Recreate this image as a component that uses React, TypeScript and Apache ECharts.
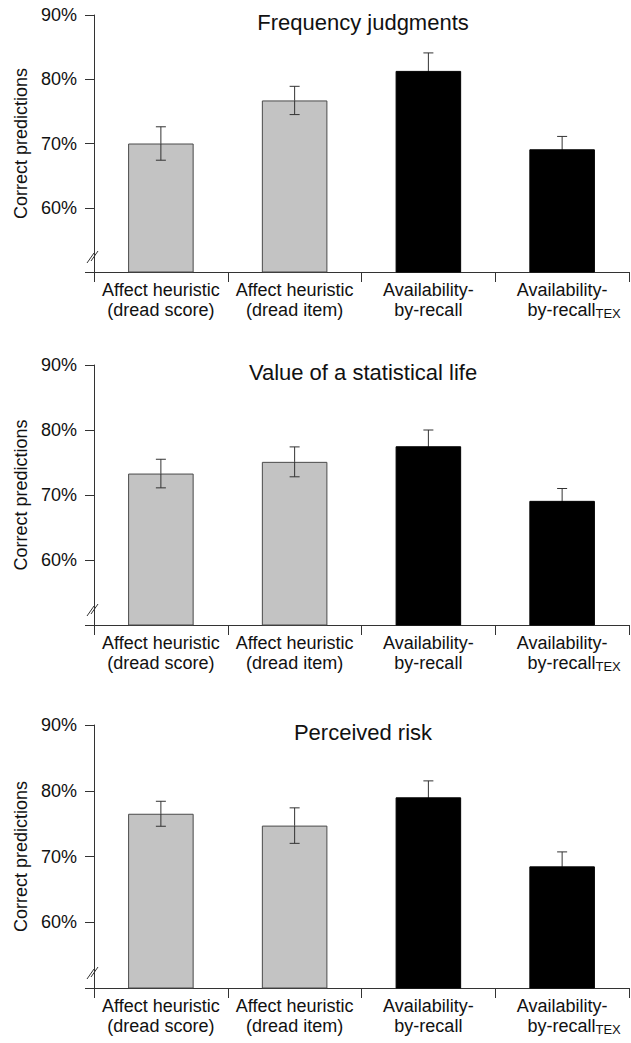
import React, { useEffect, useRef } from "react";
import * as echarts from "echarts";

const categories = [
  "Affect heuristic\n(dread score)",
  "Affect heuristic\n(dread item)",
  "Availability-\nby-recall",
  "Availability-\nby-recall TEX",
];
const panelTitles = ["Frequency judgments", "Value of a statistical life", "Perceived risk"];
const freqValues = [70.0, 76.7, 81.3, 69.1];
const freqErrors = [2.6, 2.2, 2.8, 2.0];
const vslValues = [73.3, 75.1, 77.5, 69.1];
const vslErrors = [2.2, 2.3, 2.5, 1.9];
const riskValues = [76.5, 74.7, 79.0, 68.5];
const riskErrors = [1.9, 2.7, 2.5, 2.2];
const yTicks = [50, 60, 70, 80, 90];
const yAxisName = "Correct predictions";

const panelValues = [freqValues, vslValues, riskValues];
const panelErrors = [freqErrors, vslErrors, riskErrors];

const barColors = ["#c3c3c3", "#c3c3c3", "#000000", "#000000"];
const barBorders = ["#4a4a4a", "#4a4a4a", "#000000", "#000000"];
const gridTops = [15, 365, 725];
const gridHeights = [257, 260, 263];
const FONT = "Liberation Sans, Arial, Helvetica, sans-serif";

export default function App() {
  const ref = useRef<HTMLDivElement>(null);
  useEffect(() => {
    if (!ref.current) return;
    const chart = echarts.init(ref.current, null, { renderer: "svg" });
    const grids: any[] = [];
    const xAxes: any[] = [];
    const yAxes: any[] = [];
    const series: any[] = [];
    const titles: any[] = [];
    const graphics: any[] = [];
    const axisLeft = 94;
    panelTitles.forEach((t, i) => {
      grids.push({ left: axisLeft, right: 2, top: gridTops[i], height: gridHeights[i] });
      titles.push({
        text: t,
        left: 358,
        top: gridTops[i] - 9,
        textAlign: "center",
        textStyle: { fontFamily: FONT, fontSize: 22, fontWeight: "normal", color: "#111" },
      });
      xAxes.push({
        type: "category",
        gridIndex: i,
        data: categories,
        boundaryGap: true,
        axisLine: { lineStyle: { color: "#333", width: 1 } },
        axisTick: { show: true, length: 10, alignWithLabel: false, lineStyle: { color: "#333" } },
        axisLabel: {
          interval: 0,
          margin: 8,
          color: "#111",
          fontFamily: FONT,
          fontSize: 18,
          lineHeight: 20,
          formatter: (v: string, idx: number) => {
            if (idx === 3) {
              const parts = v.split("\n");
              const second = parts[1].replace(" TEX", "");
              return `{a|${parts[0]}}\n{sp| }{a|${second}}{sub|TEX}`;
            }
            return v
              .split("\n")
              .map((s) => `{a|${s}}`)
              .join("\n");
          },
          rich: {
            a: { fontFamily: FONT, fontSize: 18, color: "#111", lineHeight: 20 },
            sp: { fontFamily: FONT, fontSize: 12, width: 24, lineHeight: 20 },
            sub: {
              fontFamily: FONT,
              fontSize: 13,
              color: "#111",
              lineHeight: 20,
              padding: [11, 0, 0, 0],
              verticalAlign: "bottom",
            },
          },
        },
        splitLine: { show: false },
      });
      yAxes.push({
        type: "value",
        gridIndex: i,
        min: yTicks[0],
        max: yTicks[yTicks.length - 1],
        interval: 10,
        name: yAxisName,
        nameLocation: "middle",
        nameGap: 64,
        nameTextStyle: { fontFamily: FONT, fontSize: 18, color: "#111" },
        axisLine: { show: true, lineStyle: { color: "#333", width: 1 } },
        axisTick: { show: true, length: 9, lineStyle: { color: "#333" } },
        axisLabel: {
          margin: 17,
          color: "#111",
          fontFamily: FONT,
          fontSize: 18,
          formatter: (v: number) => (v === yTicks[0] ? "" : `${v}%`),
        },
        splitLine: { show: false },
      });
      series.push({
        type: "bar",
        xAxisIndex: i,
        yAxisIndex: i,
        barWidth: "49%",
        data: panelValues[i].map((v, k) => ({
          value: v,
          itemStyle: { color: barColors[k], borderColor: barBorders[k], borderWidth: 1 },
        })),
        z: 2,
      });
      series.push({
        type: "custom",
        xAxisIndex: i,
        yAxisIndex: i,
        z: 3,
        data: panelValues[i].map((v, k) => [k, v - panelErrors[i][k], v + panelErrors[i][k], v]),
        encode: { x: 0, y: [1, 2] },
        renderItem: (params: any, api: any) => {
          const x = api.value(0);
          const k = params.dataIndex;
          const pHi = api.coord([x, api.value(2)]);
          const pLo = api.coord([x, api.value(1)]);
          const pMid = api.coord([x, api.value(3)]);
          const hw = 5;
          const st = { stroke: "#333", lineWidth: 1 };
          const lowSt = barColors[k] === "#000000" ? { stroke: "#000", lineWidth: 1 } : st;
          return {
            type: "group",
            children: [
              { type: "line", shape: { x1: pHi[0], y1: pHi[1], x2: pMid[0], y2: pMid[1] }, style: st },
              { type: "line", shape: { x1: pMid[0], y1: pMid[1], x2: pLo[0], y2: pLo[1] }, style: lowSt },
              { type: "line", shape: { x1: pHi[0] - hw, y1: pHi[1], x2: pHi[0] + hw, y2: pHi[1] }, style: st },
              { type: "line", shape: { x1: pLo[0] - hw, y1: pLo[1], x2: pLo[0] + hw, y2: pLo[1] }, style: lowSt },
            ],
          };
        },
      });
      const b = gridTops[i] + gridHeights[i];
      graphics.push(
        { type: "line", shape: { x1: 87, y1: b - 9, x2: 94, y2: b - 19 }, style: { stroke: "#333", lineWidth: 1 } },
        { type: "line", shape: { x1: 91, y1: b - 11, x2: 98, y2: b - 21 }, style: { stroke: "#333", lineWidth: 1 } }
      );
    });
    chart.setOption({
      animation: false,
      backgroundColor: "#ffffff",
      title: titles,
      grid: grids,
      xAxis: xAxes,
      yAxis: yAxes,
      series,
      graphic: graphics,
    });
    return () => chart.dispose();
  }, []);
  return (
    <div
      ref={ref}
      style={{ position: "absolute", left: 0, top: 0, width: 631, height: 1043, background: "#fff" }}
    />
  );
}
